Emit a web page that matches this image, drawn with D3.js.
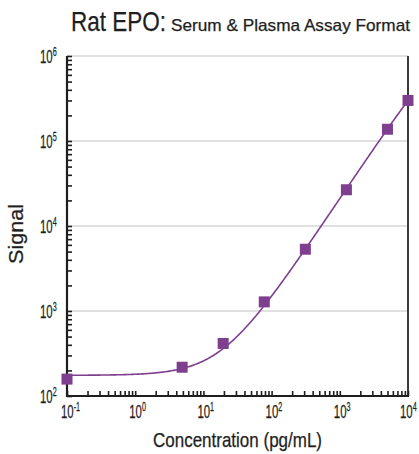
<!DOCTYPE html>
<html>
<head>
<meta charset="utf-8">
<script src="https://cdn.jsdelivr.net/npm/d3@7"></script>
<style>
  html, body { margin: 0; padding: 0; background: #fff; }
  svg { display: block; }
  text { font-family: "Liberation Sans", Arial, sans-serif; fill: #1e1e1e; stroke: #1e1e1e; stroke-width: 0.25; }
</style>
</head>
<body>
<svg id="chart" width="419" height="454"></svg>
<script>
// Standard concentrations (pg/mL) and measured signal
const concentrations = [0.1, 4.88, 19.5, 78.1, 312.5, 1250, 5000, 10000];
const signals = [158, 218, 415, 1280, 5330, 26700, 137500, 300000];

// Four-parameter logistic fit of the standard curve
const fitBottom = 175;
const fitTop = 3000000;
const fitEC = 62500;
const fitSlope = 1.2;

// Axis decades
const xDecades = [-1, 0, 1, 2, 3, 4];
const yDecades = [2, 3, 4, 5, 6];

const svg = d3.select("#chart");
const plotL = 67, plotR = 408, plotT = 56, plotB = 396;

const x = d3.scaleLog().domain([0.1, 10000]).range([plotL, plotR]);
const y = d3.scaleLog().domain([100, 1000000]).range([plotB, plotT]);

const purple = "#7f3f8f";

// Horizontal grid lines at each decade
svg.append("g").selectAll("line")
  .data(yDecades.slice(1))
  .join("line")
  .attr("x1", plotL).attr("x2", plotR)
  .attr("y1", d => y(Math.pow(10, d))).attr("y2", d => y(Math.pow(10, d)))
  .attr("stroke", "#d6d6d6").attr("stroke-width", 1.5);

// Right border
svg.append("line")
  .attr("x1", plotR).attr("x2", plotR).attr("y1", plotT).attr("y2", plotB)
  .attr("stroke", "#3a3a3a").attr("stroke-width", 2);

// Minor + major ticks
const xTicks = [];
for (let e = -1; e < 4; e++) for (let m = 1; m < 10; m++) xTicks.push(m * Math.pow(10, e));
xTicks.push(10000);
const yTicks = [];
for (let e = 2; e < 6; e++) for (let m = 1; m < 10; m++) yTicks.push(m * Math.pow(10, e));
yTicks.push(1000000);

const xAxis = d3.axisTop(x).tickValues(xTicks).tickSize(5).tickFormat("");
const yAxis = d3.axisRight(y).tickValues(yTicks).tickSize(5).tickFormat("");

const gx = svg.append("g").attr("transform", `translate(0,${plotB})`).call(xAxis);
const gy = svg.append("g").attr("transform", `translate(${plotL},0)`).call(yAxis);
[gx, gy].forEach(g => {
  g.select(".domain").remove();
  g.selectAll(".tick line").attr("stroke", "#1e1e1e").attr("stroke-width", 1.6);
});

// Axis lines
svg.append("line").attr("x1", plotL).attr("x2", plotL).attr("y1", plotT).attr("y2", plotB + 1)
  .attr("stroke", "#1e1e1e").attr("stroke-width", 2.2);
svg.append("line").attr("x1", plotL - 1).attr("x2", plotR + 1).attr("y1", plotB).attr("y2", plotB)
  .attr("stroke", "#1e1e1e").attr("stroke-width", 2.2);

// Decade labels: "10" with a raised exponent, horizontally condensed
function powLabel(x0, base, e) {
  const t = svg.append("text")
    .attr("transform", `translate(${x0},${base}) scale(0.6,1)`)
    .attr("font-size", 19);
  t.append("tspan").text("10");
  t.append("tspan").attr("dy", -7).attr("font-size", 12).text(String(e));
}
xDecades.forEach(e => powLabel(Math.min(x(Math.pow(10, e)) - 6, 400), 418, e));
yDecades.forEach(e => powLabel(40, y(Math.pow(10, e)) + 7, e));

// Fitted curve
const fit = c => fitTop + (fitBottom - fitTop) / (1 + Math.pow(c / fitEC, fitSlope));
const curveX = d3.range(0, 301).map(i => Math.pow(10, -1 + 5 * i / 300));
svg.append("path")
  .datum(curveX)
  .attr("fill", "none").attr("stroke", purple).attr("stroke-width", 1.6)
  .attr("d", d3.line().x(d => x(d)).y(d => y(fit(d))));

// Standards
const s = 11;
svg.append("g").selectAll("rect")
  .data(concentrations.map((c, i) => [c, signals[i]]))
  .join("rect")
  .attr("x", d => x(d[0]) - s / 2).attr("y", d => y(d[1]) - s / 2)
  .attr("width", s).attr("height", s)
  .attr("fill", purple);

// Title
svg.append("text").attr("x", 71).attr("y", 31)
  .attr("font-size", 28).attr("stroke-width", 0.6)
  .attr("textLength", 95).attr("lengthAdjust", "spacingAndGlyphs")
  .text("Rat EPO:");
svg.append("text").attr("x", 171).attr("y", 31)
  .attr("font-size", 16.5).attr("stroke-width", 0.35)
  .attr("textLength", 239).attr("lengthAdjust", "spacingAndGlyphs")
  .text("Serum & Plasma Assay Format");

// Axis titles
svg.append("text").attr("x", 153).attr("y", 447)
  .attr("font-size", 21).attr("textLength", 169).attr("lengthAdjust", "spacingAndGlyphs")
  .text("Concentration (pg/mL)");
svg.append("text").attr("transform", "translate(23,264) rotate(-90)")
  .attr("font-size", 20).attr("textLength", 60).attr("lengthAdjust", "spacingAndGlyphs")
  .text("Signal");
</script>
</body>
</html>
